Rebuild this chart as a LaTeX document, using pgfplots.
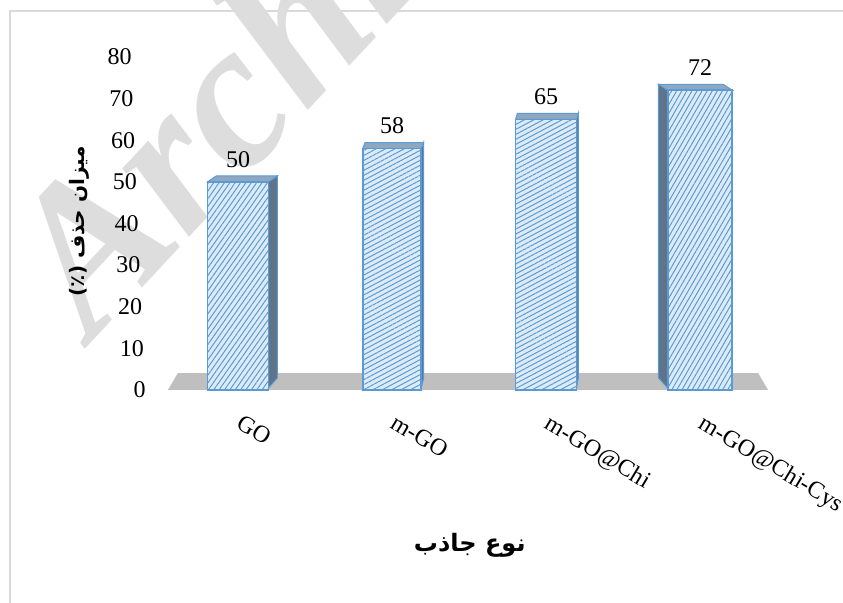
\documentclass[border=0pt]{standalone}
\usepackage{pgfplots}
\pgfplotsset{compat=1.18}
\usetikzlibrary{patterns.meta}
\usepackage{fontspec}
\setmainfont{Liberation Serif}
\newfontfamily\arabicfont[Script=Arabic]{DejaVu Sans}
\TeXXeTstate=1
\definecolor{barfill}{HTML}{DDEBF7}
\definecolor{barline}{HTML}{5B9BD5}
\definecolor{sidefill}{HTML}{5F7389}
\definecolor{topfill}{HTML}{8FA7BF}
\definecolor{floorc}{HTML}{BFBFBF}
\definecolor{wm}{RGB}{221,221,221}
\definecolor{framec}{RGB}{217,217,217}
\begin{document}
\begin{tikzpicture}
\useasboundingbox (0,0) rectangle (421.5pt,-301.5pt);
\clip (0,0) rectangle (421.5pt,-301.5pt);
\fill[white] (0,0) rectangle (421.5pt,-301.5pt);
\begin{scope}[x=0.5pt,y=-0.5pt]
\draw[framec, line width=0.8pt] (10,640) -- (10,11) -- (860,11);
\node[rotate=47, anchor=base west, text=wm, inner sep=0pt,
  font=\fontsize{104}{104}\selectfont\bfseries\itshape] at (92,342) {Archive};
\end{scope}
\begin{axis}[
  at={(80pt,-195pt)}, anchor=south west,
  scale only axis, width=320pt, height=166.5pt,
  xmin=-0.5065, xmax=3.649, ymin=0, ymax=80,
  clip=false,
  axis line style={draw=none},
  tick style={draw=none},
  /pgf/number format/assume math mode=true,
  ytick={0,10,...,80},
  yticklabels={0\hspace*{0pt},10\hspace*{0.875pt},20\hspace*{1.75pt},30\hspace*{2.625pt},40\hspace*{3.5pt},50\hspace*{4.375pt},60\hspace*{5.25pt},70\hspace*{6.125pt},80\hspace*{7pt}},
  yticklabel style={font=\fontsize{12}{14}\selectfont, anchor=east, inner sep=0pt, xshift=-7pt},
  xtick={0,1,2,3},
  xticklabels={GO,m-GO,m-GO@Chi,m-GO@Chi-Cys},
  xticklabel style={font=\fontsize{12}{14}\selectfont, anchor=north west, inner sep=0pt, xshift=3pt, yshift=-11.5pt, rotate=-31},
  xlabel={\arabicfont\bfseries\beginR نوع جاذب\endR},
  xlabel style={at={(axis description cs:0.484,-0.465)}, anchor=center, font=\fontsize{12}{14}\selectfont},
  ylabel={\arabicfont\bfseries\beginR میزان حذف (٪)\endR},
  ylabel style={at={(axis description cs:-0.1266,0.5075)}, anchor=center, rotate=0, font=\fontsize{10}{12}\selectfont},
  nodes near coords style={font=\fontsize{12}{14}\selectfont, text=black, anchor=south, yshift=3.5pt},
]
% floor
\addplot[fill=floorc, draw=none] coordinates {(-0.455,0) (-0.39,4.08) (3.377,4.08) (3.442,0)} -- cycle;
% side faces
\addplot[fill=sidefill, draw=barline, line width=0.5pt] coordinates {(0.198,0.5) (0.198,50) (0.256,51.45) (0.256,2.9)} -- cycle;
\addplot[fill=sidefill, draw=barline, line width=0.5pt] coordinates {(1.19,0.5) (1.19,58) (1.205,59.45) (1.205,2.9)} -- cycle;
\addplot[fill=sidefill, draw=barline, line width=0.5pt] coordinates {(2.198,0.5) (2.198,65) (2.21,66.45) (2.21,2.9)} -- cycle;
\addplot[fill=sidefill, draw=barline, line width=0.5pt] coordinates {(2.79,0.5) (2.79,72) (2.73,73.45) (2.73,2.9)} -- cycle;
% top faces
\addplot[fill=topfill, draw=barline, line width=0.5pt] coordinates {(-0.198,50) (0.198,50) (0.256,51.45) (-0.14,51.45)} -- cycle;
\addplot[fill=topfill, draw=barline, line width=0.5pt] coordinates {(0.81,58) (1.19,58) (1.205,59.45) (0.825,59.45)} -- cycle;
\addplot[fill=topfill, draw=barline, line width=0.5pt] coordinates {(1.802,65) (2.198,65) (2.21,66.45) (1.814,66.45)} -- cycle;
\addplot[fill=topfill, draw=barline, line width=0.5pt] coordinates {(2.79,72) (3.21,72) (3.15,73.45) (2.73,73.45)} -- cycle;
% front faces: light fill
\addplot[ybar, bar shift=0pt, bar width=0.396, fill=barfill, draw=none] coordinates {(0,50)};
\addplot[ybar, bar shift=0pt, bar width=0.38, fill=barfill, draw=none] coordinates {(1,58)};
\addplot[ybar, bar shift=0pt, bar width=0.396, fill=barfill, draw=none] coordinates {(2,65)};
\addplot[ybar, bar shift=0pt, bar width=0.42, fill=barfill, draw=none] coordinates {(3,72)};
% front faces: hatching, outline, value labels
\addplot[ybar, bar shift=0pt, bar width=0.396, draw=barline, line width=0.9pt,
  pattern color=barline, pattern={Lines[angle=55,distance=2.2pt,line width=0.5pt]},
  nodes near coords] coordinates {(0,50)};
\addplot[ybar, bar shift=0pt, bar width=0.38, draw=barline, line width=0.9pt,
  pattern color=barline, pattern={Lines[angle=28,distance=2.2pt,line width=0.5pt]},
  nodes near coords] coordinates {(1,58)};
\addplot[ybar, bar shift=0pt, bar width=0.396, draw=barline, line width=0.9pt,
  pattern color=barline, pattern={Lines[angle=28,distance=2.2pt,line width=0.5pt]},
  nodes near coords] coordinates {(2,65)};
\addplot[ybar, bar shift=0pt, bar width=0.42, draw=barline, line width=0.9pt,
  pattern color=barline, pattern={Lines[angle=60,distance=2.2pt,line width=0.5pt]},
  nodes near coords] coordinates {(3,72)};
\end{axis}
\end{tikzpicture}
\end{document}
